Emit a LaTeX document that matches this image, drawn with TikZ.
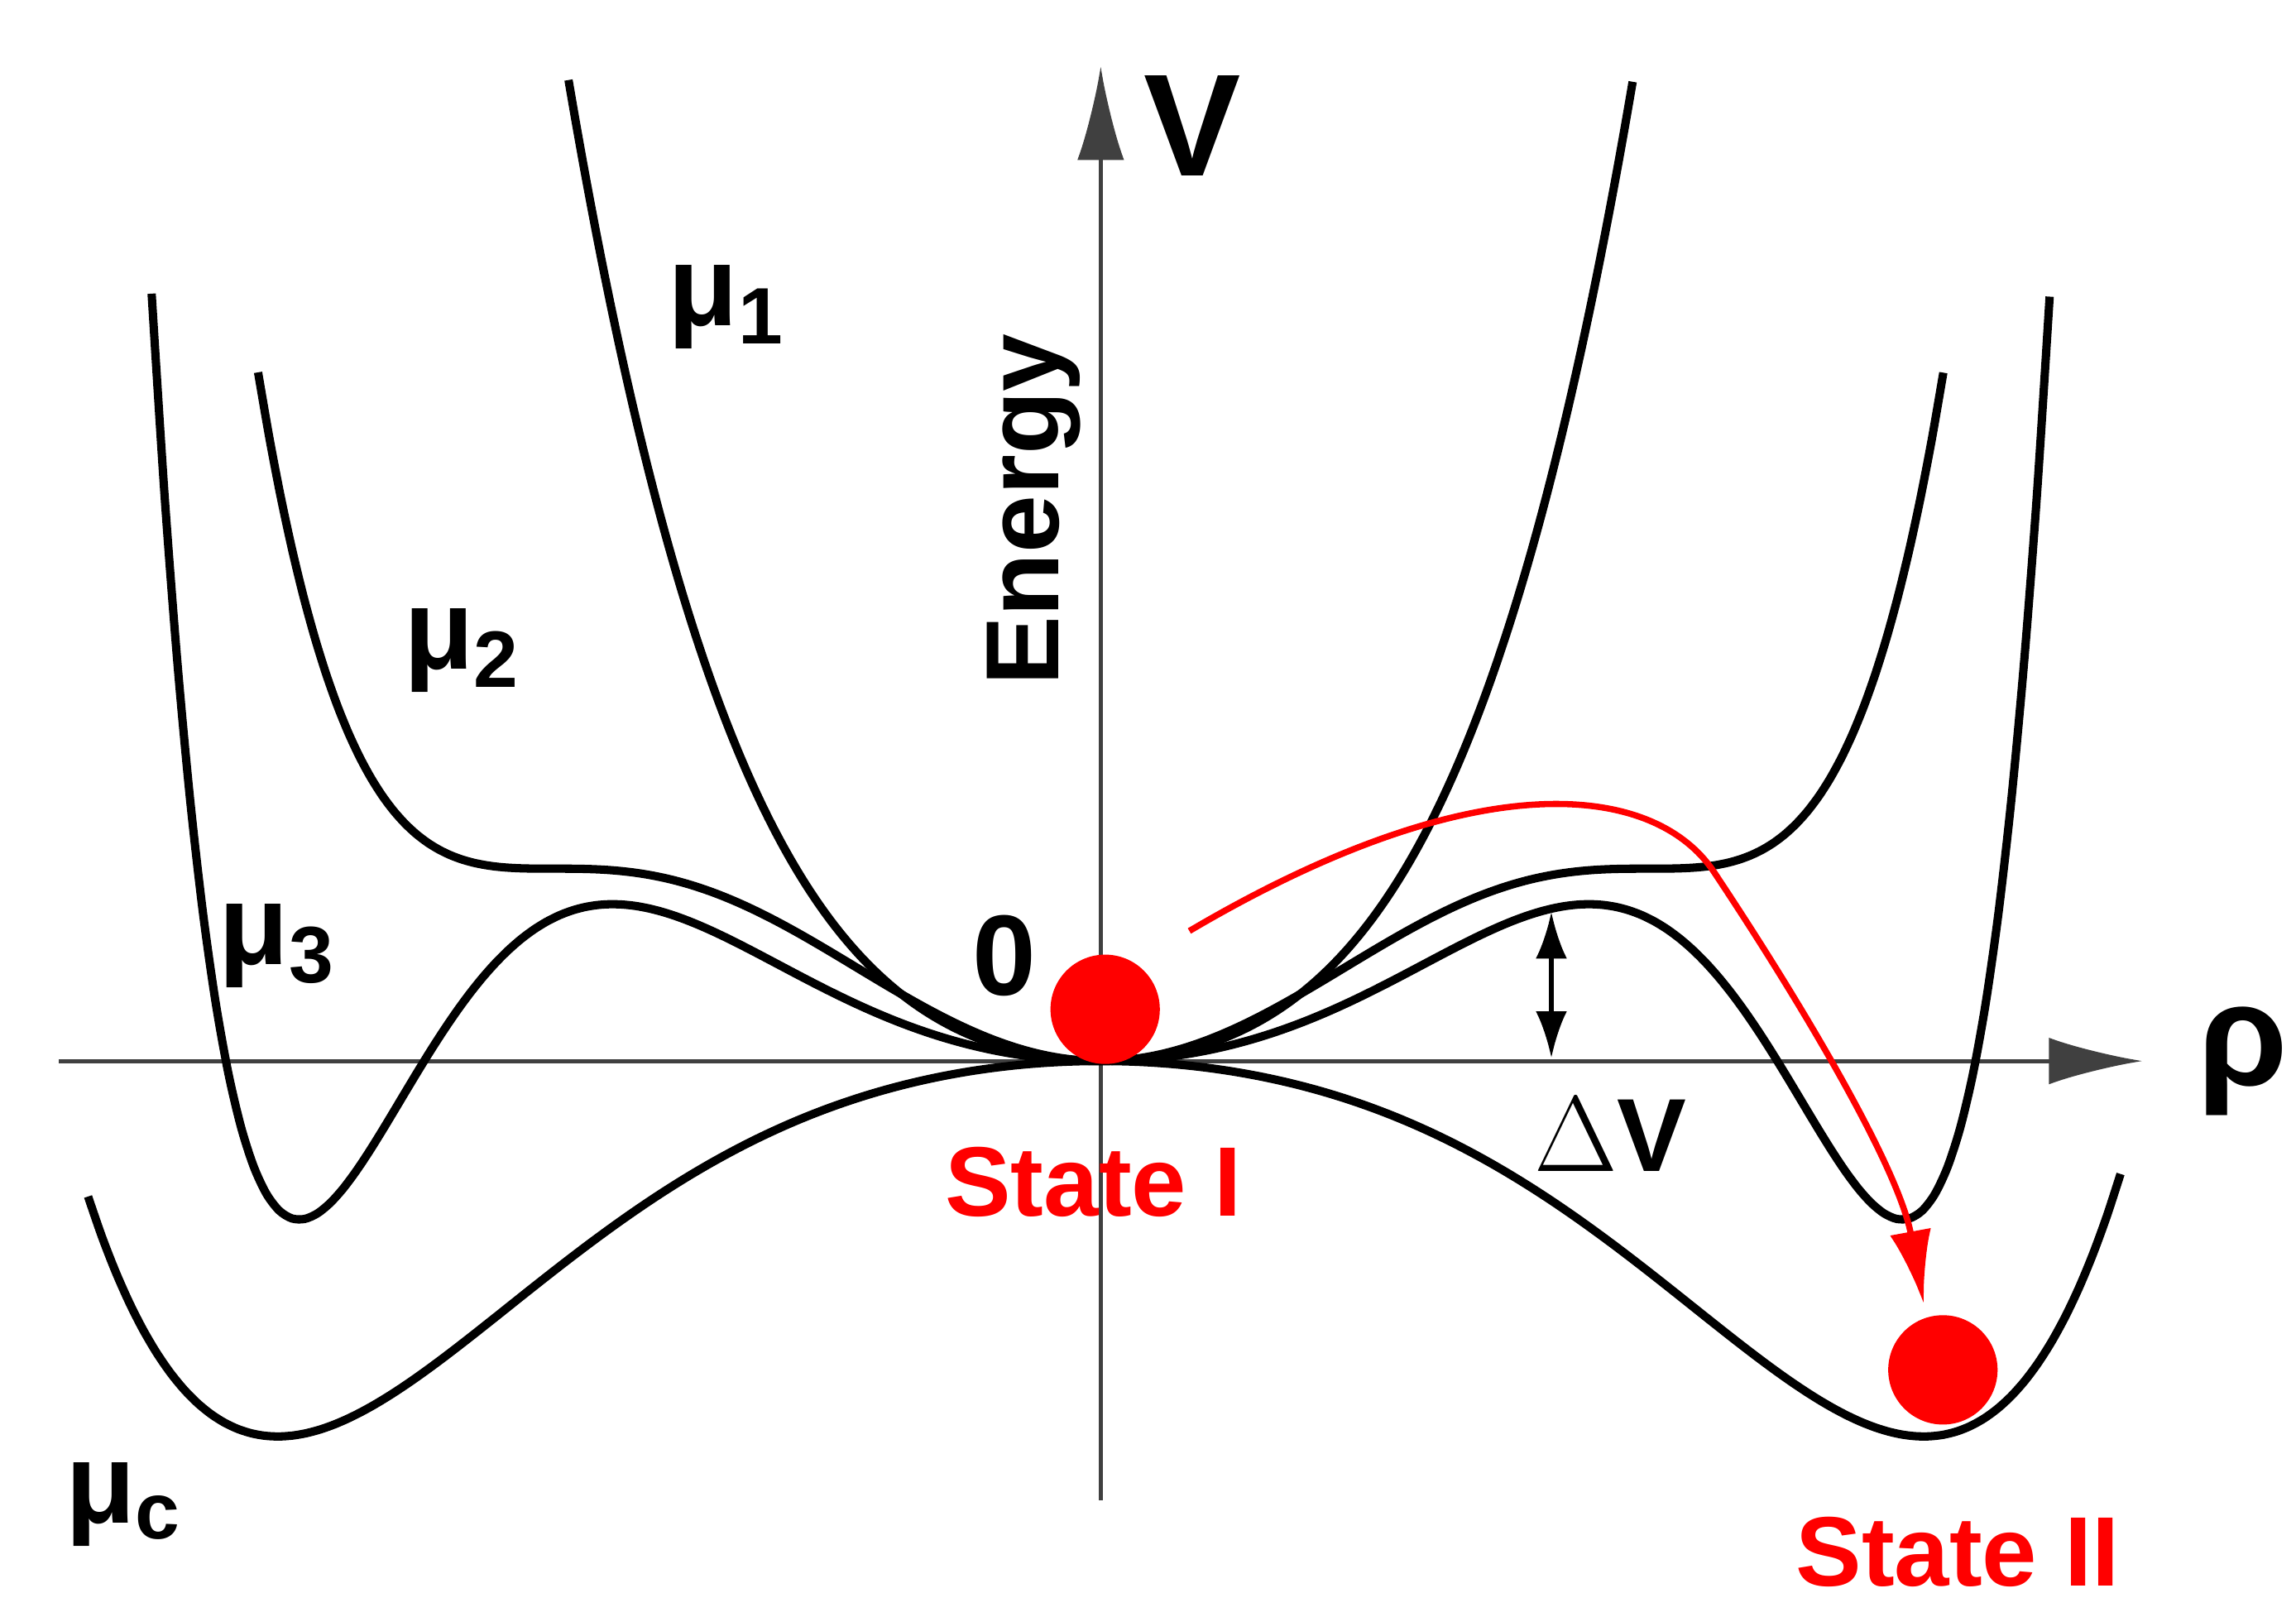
\documentclass[tikz,border=0pt]{standalone}
\usepackage{fontspec}
\setmainfont{Liberation Sans}
\usetikzlibrary{arrows.meta}
\begin{document}
\begin{tikzpicture}[x=0.01cm,y=-0.01cm,
  curve/.style={line width=1.6pt,black,smooth,samples=150},
  lab/.style={font=\fontsize{22}{24}\selectfont\bfseries},
  red lab/.style={font=\fontsize{19}{22}\selectfont\bfseries,text=red}]
\useasboundingbox (0,0) rectangle (1554,1094);
% axes
\coordinate (xs) at (40,718); \coordinate (xe) at (1450,718);
\coordinate (ys) at (745,1015); \coordinate (ye) at (745,45);
\draw[line width=0.8pt,black!75,-{Latex[length=18pt,width=9pt]}] (xs) -- (xe);
\draw[line width=0.8pt,black!75,-{Latex[length=18pt,width=9pt]}] (ys) -- (ye);
\begin{scope}[shift={(745,718)},x=1cm,y=1cm]
\draw[curve,domain=-3.6:3.6] plot (\x,{0.206*\x*\x+0.0236*\x*\x*\x*\x});
\draw[curve,domain=-5.7:5.7] plot (\x,{0.506*((\x*\x/10-1.37)^3+2.571)});
\draw[curve,domain=-6.42:6.42] plot (\x,{0.198*(\x*\x/10)^4-0.9222*(\x*\x/10)^3+0.4122*(\x*\x/10)^2+1.363*(\x*\x/10)});
\draw[curve,domain=-6.85:6.9] plot (\x,{-0.87*(\x*\x/10)-0.2316*(\x*\x/10)^2+0.08*(\x*\x/10)^3});
\end{scope}
% balls
\fill[red] (748,683) circle (37) node (b1) {};
\fill[red] (1315,927) circle (37) node (b2) {};
% red arrow
\coordinate (ra) at (805,630); \coordinate (rb) at (1302,882);
\draw[red,line width=1.2pt,-{Latex[length=14pt,width=8pt]}] (ra) .. controls (1000,515) and (1120,530) .. (1160,590) .. controls (1220,680) and (1285,790) .. (rb);
% delta V
\coordinate (d1) at (1050,617); \coordinate (d2) at (1050,716);
\draw[line width=0.9pt,{Latex[length=9pt,width=6pt]}-{Latex[length=9pt,width=6pt]}] (d1) -- (d2);
\node[font=\fontsize{20}{22}\selectfont] (dv) at (1090,768) {$\Delta$\textbf{V}};
% labels
\node[lab] (m1) at (492,208) {μ\textsubscript{1}};
\node[lab] (m2) at (313,440) {μ\textsubscript{2}};
\node[lab] (m3) at (188,640) {μ\textsubscript{3}};
\node[lab] (mc) at (84,1018) {μ\textsubscript{c}};
\node[lab] (zero) at (680,647) {0};
\node[font=\fontsize{28}{32}\selectfont\bfseries] (V) at (807,85) {V};
\node[font=\fontsize{28}{32}\selectfont\bfseries] (rho) at (1518,718) {ρ};
\node[font=\fontsize{20}{22}\selectfont\bfseries,rotate=90] (E) at (700,345) {Energy};
\node[red lab] (s1) at (740,800) {State I};
\node[red lab] (s2) at (1325,1050) {State II};
\end{tikzpicture}
\end{document}
